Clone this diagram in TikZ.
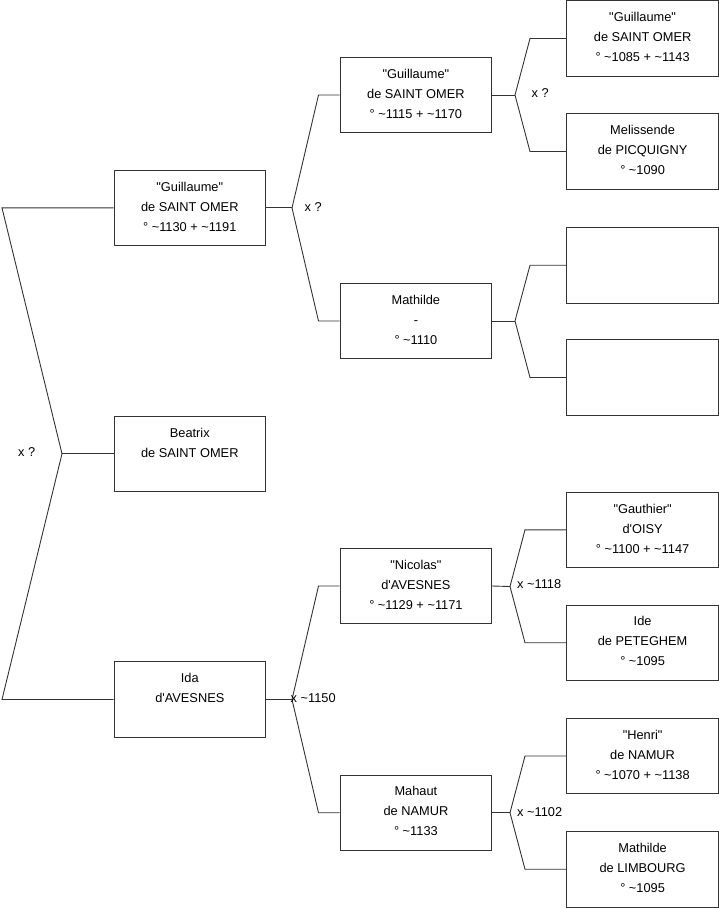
\documentclass[tikz,border=0pt]{standalone}
\usepackage{fontspec}
\setmainfont{Liberation Sans}
\definecolor{ln}{HTML}{333333}
\newcommand{\bt}[1]{\parbox[c][75.5pt][t]{151pt}{\centering\rule{0pt}{21pt}#1}}
\newcommand{\tl}{\textasciitilde}
\newcommand{\ap}{\textquotesingle}
\newcommand{\qd}{\textquotedbl}
\tikzset{
  pbox/.style={draw=ln, line width=0.9pt, rectangle, inner sep=0pt, minimum width=151.5pt, minimum height=75.5pt, font=\fontsize{12.8}{20}\selectfont},
  conn/.style={draw=ln, line width=0.9pt},
  mlabel/.style={anchor=west, inner sep=0pt, font=\fontsize{12.8}{20}\selectfont}
}
\begin{document}
\begin{tikzpicture}[x=1pt,y=-1pt]
\useasboundingbox (0,0) rectangle (719,908);
% level 1
\node[pbox] (g1) at (189.8,207.9) {\bt{\qd Guillaume\qd\\de SAINT OMER\\° \tl1130 + \tl1191}};
\node[pbox] (bea) at (189.8,453.75) {\bt{Beatrix\\de SAINT OMER}};
\node[pbox] (ida) at (189.8,699.5) {\bt{Ida\\d\ap AVESNES}};
% level 2
\node[pbox] (g2) at (415.9,95) {\bt{\qd Guillaume\qd\\de SAINT OMER\\° \tl1115 + \tl1170}};
\node[pbox] (mat) at (415.9,321) {\bt{Mathilde\\-\\° \tl1110}};
\node[pbox] (nic) at (415.9,586) {\bt{\qd Nicolas\qd\\d\ap AVESNES\\° \tl1129 + \tl1171}};
\node[pbox] (mah) at (415.9,812.7) {\bt{Mahaut\\de NAMUR\\° \tl1133}};
% level 3
\node[pbox] (g3) at (642.6,38.5) {\bt{\qd Guillaume\qd\\de SAINT OMER\\° \tl1085 + \tl1143}};
\node[pbox] (mel) at (642.6,151.5) {\bt{Melissende\\de PICQUIGNY\\° \tl1090}};
\node[pbox] (e1) at (642.6,265.2) {\bt{}};
\node[pbox] (e2) at (642.6,377.5) {\bt{}};
\node[pbox] (gau) at (642.6,529.8) {\bt{\qd Gauthier\qd\\d\ap OISY\\° \tl1100 + \tl1147}};
\node[pbox] (ide) at (642.6,642.7) {\bt{Ide\\de PETEGHEM\\° \tl1095}};
\node[pbox] (hen) at (642.6,756) {\bt{\qd Henri\qd\\de NAMUR\\° \tl1070 + \tl1138}};
\node[pbox] (lim) at (642.6,869.2) {\bt{Mathilde\\de LIMBOURG\\° \tl1095}};
% root bracket
\coordinate (rt) at (2,207.9);
\coordinate (rj) at (62,453.75);
\coordinate (rb) at (2,699.5);
\draw[conn] (g1.west) -- (rt) -- (rj) -- (rb) -- (ida.west);
\draw[conn] (rj) -- (bea.west);
\node[mlabel] (l0) at (18,451.7) {x ?};
% g1 bracket
\coordinate (aj) at (292,207.9);
\coordinate (at) at (318.5,95);
\coordinate (ab) at (318.5,321);
\draw[conn] (g1.east) -- (aj);
\draw[conn] (g2.west) -- (at) -- (aj) -- (ab) -- (mat.west);
\node[mlabel] (l1) at (304.5,207) {x ?};
% ida bracket
\coordinate (bj) at (292,699.5);
\coordinate (bt) at (318.5,586);
\coordinate (bb) at (318.5,812.7);
\draw[conn] (ida.east) -- (bj);
\draw[conn] (nic.west) -- (bt) -- (bj) -- (bb) -- (mah.west);
\node[mlabel] (l2) at (290.5,698.3) {x \tl1150};
% g2 bracket
\coordinate (cj) at (515,95);
\coordinate (ct) at (530,38.5);
\coordinate (cb) at (530,151.5);
\draw[conn] (g2.east) -- (cj);
\draw[conn] (g3.west) -- (ct) -- (cj) -- (cb) -- (mel.west);
\node[mlabel] (l3) at (531.5,93.3) {x ?};
% mathilde bracket
\coordinate (dj) at (515,321);
\coordinate (dt) at (530,265.2);
\coordinate (db) at (530,377.5);
\draw[conn] (mat.east) -- (dj);
\draw[conn] (e1.west) -- (dt) -- (dj) -- (db) -- (e2.west);
% nicolas bracket
\coordinate (ej) at (510,586.5);
\coordinate (et) at (525,529.8);
\coordinate (eb) at (525,642.7);
\draw[conn] (nic.east) -- (ej);
\draw[conn] (gau.west) -- (et) -- (ej) -- (eb) -- (ide.west);
\node[mlabel] (l4) at (517,584) {x \tl1118};
% mahaut bracket
\coordinate (fj) at (510,812.7);
\coordinate (ft) at (525,756);
\coordinate (fb) at (525,869.2);
\draw[conn] (mah.east) -- (fj);
\draw[conn] (hen.west) -- (ft) -- (fj) -- (fb) -- (lim.west);
\node[mlabel] (l5) at (517,811.7) {x \tl1102};
\end{tikzpicture}
\end{document}
